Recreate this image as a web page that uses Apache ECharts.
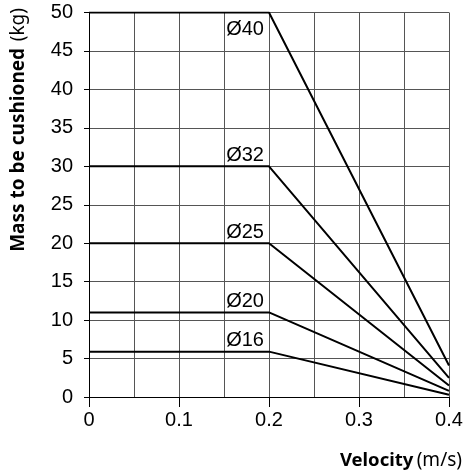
<!DOCTYPE html>
<html>
<head>
<meta charset="utf-8">
<script src="https://cdn.jsdelivr.net/npm/echarts@6/dist/echarts.min.js"></script>
<style>
    html, body { margin: 0; padding: 0; background: #fff; }
    #chart { width: 466px; height: 474px; }
</style>
</head>
<body>
<div id="chart"></div>
<script>
var velocity = [0, 0.2, 0.4];
var boreNames = ['Ø40', 'Ø32', 'Ø25', 'Ø20', 'Ø16'];
var mass40 = [50, 50, 4.1];
var mass32 = [30, 30, 2.5];
var mass25 = [20, 20, 1.5];
var mass20 = [11, 11, 0.8];
var mass16 = [5.9, 5.9, 0.3];
var xTicks = [0, 0.1, 0.2, 0.3, 0.4];
var yTicks = [0, 5, 10, 15, 20, 25, 30, 35, 40, 45, 50];

var chartObj = (function () {
    var o = {
        init: function () {
            this.myChart = echarts.init(document.getElementById('chart'));
            this.draw();
        },
        makeSeries: function (name, values, below) {
            var data = values.map(function (v, i) {
                var item = { value: [velocity[i], v] };
                if (i == 1) {
                    item.label = {
                        show: true,
                        formatter: name,
                        position: 'left',
                        distance: 5,
                        offset: [0, below ? 17 : -11]
                    };
                }
                return item;
            });
            return {
                name: name,
                type: 'line',
                data: data,
                symbol: 'circle',
                symbolSize: 0.1,
                showSymbol: true,
                itemStyle: { color: '#000' },
                lineStyle: { color: '#000', width: 2 },
                label: {
                    color: '#000',
                    fontFamily: 'Liberation Sans',
                    fontSize: 20
                },
                emphasis: { disabled: true },
                animation: false
            };
        },
        draw: function () {
            var allMass = [mass40, mass32, mass25, mass20, mass16];
            var self = this;
            var series = allMass.map(function (m, i) {
                return self.makeSeries(boreNames[i], m, i == 0);
            });
            var option = {
                backgroundColor: '#fff',
                grid: { left: 89, right: 17, top: 12.5, bottom: 77 },
                xAxis: {
                    type: 'value',
                    min: xTicks[0],
                    max: xTicks[xTicks.length - 1],
                    interval: 0.1,
                    axisLine: { show: true, lineStyle: { color: '#000', width: 1 } },
                    axisTick: { show: true, length: 10, lineStyle: { color: '#000' } },
                    axisLabel: {
                        color: '#000', fontFamily: 'Liberation Sans', fontSize: 20, margin: 13,
                        formatter: function (v) { return String(+v.toFixed(1)); }
                    },
                    splitLine: { show: true, lineStyle: { color: '#555', width: 1 } },
                    minorTick: { show: false, splitNumber: 2 },
                    minorSplitLine: { show: true, lineStyle: { color: '#555', width: 1 } }
                },
                yAxis: {
                    type: 'value',
                    min: yTicks[0],
                    max: yTicks[yTicks.length - 1],
                    interval: 5,
                    axisLine: { show: true, lineStyle: { color: '#000', width: 1 } },
                    axisTick: { show: true, length: 5, lineStyle: { color: '#000' } },
                    axisLabel: { color: '#000', fontFamily: 'Liberation Sans', fontSize: 20, margin: 16 },
                    splitLine: { show: true, lineStyle: { color: '#555', width: 1 } }
                },
                graphic: [{
                    type: 'text',
                    left: 9,
                    top: 8,
                    rotation: Math.PI / 2,
                    style: {
                        text: '{b|Mass to be cushioned}  {n|(kg)}',
                        rich: {
                            b: { fontFamily: 'Noto Sans', fontWeight: 'bold', fontSize: 19, fill: '#000' },
                            n: { fontFamily: 'Noto Sans', fontSize: 19, fill: '#000' }
                        }
                    }
                }, {
                    type: 'text',
                    right: 4,
                    top: 451,
                    style: {
                        text: '{b|Velocity} {n|(m/s)}',
                        rich: {
                            b: { fontFamily: 'Noto Sans', fontWeight: 'bold', fontSize: 18.5, fill: '#000' },
                            n: { fontFamily: 'Noto Sans', fontSize: 19, fill: '#000' }
                        }
                    }
                }],
                series: series
            };
            this.myChart.setOption(option);
        }
    };
    o.init();
    return o;
}());
</script>
</body>
</html>
